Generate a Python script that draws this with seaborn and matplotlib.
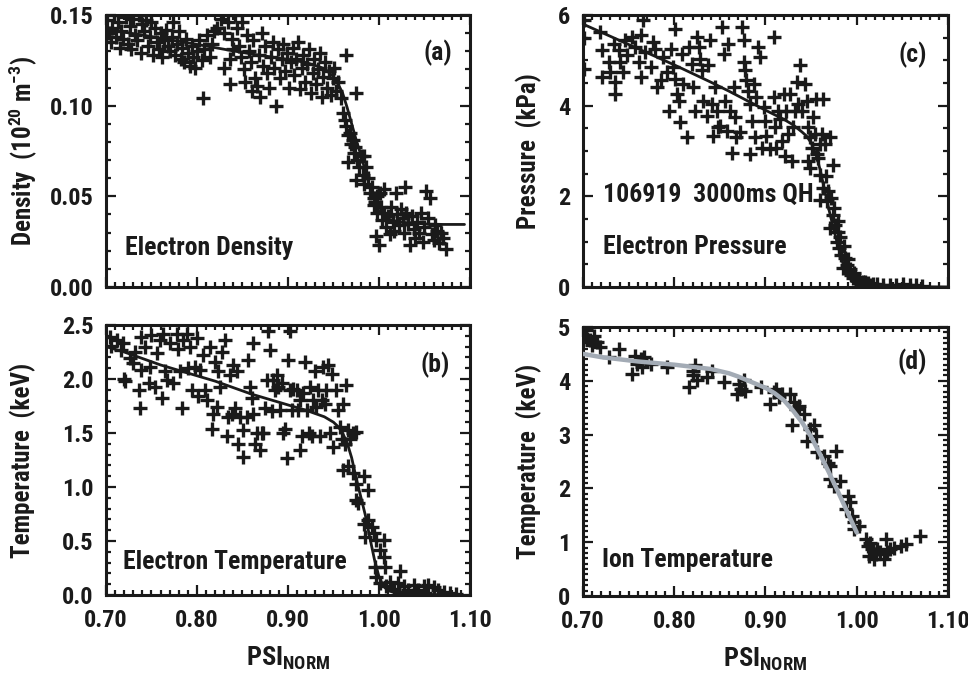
import numpy as np
import pandas as pd
import matplotlib
matplotlib.use("Agg")
import matplotlib.pyplot as plt
from matplotlib import font_manager
from matplotlib.ticker import MultipleLocator
import seaborn as sns

# ---------------- data ----------------
dens_pts = [
    (0.701,0.147),(0.703,0.140),(0.705,0.135),(0.707,0.143),(0.709,0.150),(0.711,0.138),(0.713,0.146),(0.715,0.132),(0.717,0.141),(0.719,0.137),
    (0.722,0.149),(0.724,0.134),(0.726,0.144),(0.728,0.131),(0.730,0.148),(0.732,0.139),(0.734,0.136),(0.736,0.150),(0.738,0.129),(0.740,0.145),
    (0.742,0.141),(0.744,0.147),(0.746,0.133),(0.748,0.138),(0.750,0.146),(0.752,0.128),(0.754,0.143),(0.756,0.135),(0.758,0.131),(0.760,0.140),
    (0.762,0.127),(0.764,0.136),(0.766,0.142),(0.768,0.133),(0.770,0.130),(0.772,0.138),(0.774,0.146),(0.776,0.128),(0.778,0.134),(0.780,0.141),
    (0.782,0.126),(0.784,0.132),(0.786,0.124),(0.788,0.137),(0.790,0.129),(0.792,0.122),(0.794,0.133),(0.796,0.127),(0.798,0.121),(0.800,0.130),
    (0.807,0.104),(0.802,0.136),(0.805,0.125),(0.808,0.131),(0.811,0.139),(0.814,0.127),(0.817,0.134),(0.819,0.141),
    (0.822,0.143),(0.826,0.148),(0.830,0.140),(0.834,0.146),(0.838,0.137),(0.836,0.126),(0.830,0.121),(0.840,0.131),(0.842,0.150),(0.836,0.112),
    (0.844,0.143),(0.846,0.133),(0.848,0.127),(0.850,0.146),(0.852,0.120),(0.853,0.113),(0.855,0.139),(0.857,0.130),(0.859,0.124),(0.860,0.108),
    (0.862,0.136),(0.864,0.115),(0.866,0.111),(0.868,0.128),(0.869,0.105),(0.871,0.140),(0.873,0.122),(0.875,0.133),(0.877,0.118),(0.879,0.110),
    (0.881,0.127),(0.883,0.135),(0.885,0.121),(0.887,0.100),(0.889,0.131),(0.891,0.115),(0.893,0.126),(0.895,0.134),(0.897,0.119),(0.899,0.129),
    (0.901,0.110),(0.903,0.124),(0.905,0.132),(0.907,0.117),(0.909,0.126),(0.911,0.135),(0.913,0.109),(0.915,0.121),(0.917,0.128),(0.919,0.113),
    (0.921,0.123),(0.923,0.131),(0.925,0.107),(0.927,0.118),(0.929,0.126),(0.931,0.112),(0.933,0.120),(0.935,0.129),(0.937,0.105),(0.939,0.116),
    (0.941,0.124),(0.943,0.110),(0.945,0.119),(0.947,0.106),(0.949,0.115),(0.951,0.121),(0.953,0.108),(0.955,0.113),(0.958,0.104),(0.964,0.128),(0.975,0.107),
    (0.961,0.096),(0.963,0.092),(0.964,0.089),(0.966,0.084),(0.968,0.085),(0.969,0.079),(0.971,0.081),(0.973,0.074),(0.974,0.077),(0.966,0.069),
    (0.976,0.070),(0.978,0.066),(0.980,0.072),(0.983,0.072),(0.975,0.059),(0.982,0.062),(0.986,0.066),(0.984,0.057),(0.988,0.060),(0.990,0.052),
    (0.992,0.055),(0.994,0.049),(0.994,0.045),(0.996,0.047),(0.998,0.050),(0.998,0.041),(1.001,0.052),(1.002,0.044),
    (0.997,0.028),(1.000,0.023),(1.003,0.037),(1.005,0.054),(1.006,0.041),(1.008,0.033),(1.010,0.039),(1.012,0.029),(1.013,0.044),(1.015,0.036),
    (1.017,0.031),(1.019,0.052),(1.020,0.040),(1.022,0.034),(1.024,0.043),(1.026,0.038),(1.028,0.030),(1.029,0.055),(1.030,0.041),(1.032,0.035),
    (1.034,0.023),(1.036,0.039),(1.038,0.032),(1.040,0.027),(1.042,0.036),(1.044,0.030),(1.046,0.041),(1.048,0.025),(1.050,0.033),(1.052,0.053),
    (1.054,0.038),(1.056,0.049),(1.058,0.029),(1.060,0.026),(1.062,0.034),(1.064,0.031),(1.066,0.024),(1.068,0.030),(1.070,0.027),(1.074,0.021),
]
dens_fit_x = [0.70,0.72,0.74,0.76,0.78,0.80,0.82,0.84,0.86,0.88,0.90,0.92,0.94,0.95,0.955,0.96,0.965,0.97,0.975,0.98,0.985,0.99,0.995,1.00,1.005,1.01,1.02,1.03,1.05,1.07,1.094]
dens_fit_y = [0.142,0.1405,0.139,0.1372,0.1355,0.1338,0.132,0.1302,0.1285,0.127,0.1255,0.1238,0.1205,0.116,0.112,0.107,0.099,0.090,0.081,0.073,0.064,0.055,0.048,0.042,0.039,0.0375,0.0362,0.0355,0.0348,0.0345,0.0345]

te_pts = [
    (0.704,2.39),(0.706,2.31),(0.712,2.36),(0.719,2.33),(0.717,2.27),(0.721,1.98),(0.720,2.00),(0.726,2.19),(0.730,2.15),(0.732,2.25),
    (0.737,1.73),(0.736,1.90),(0.739,2.39),(0.739,2.08),(0.743,2.30),(0.747,1.96),(0.748,2.11),(0.750,2.41),(0.754,1.93),(0.756,2.24),
    (0.759,2.36),(0.761,1.82),(0.763,2.42),(0.765,2.07),(0.767,1.99),(0.770,2.33),(0.774,1.96),(0.778,2.42),(0.779,2.28),(0.781,2.07),
    (0.783,1.73),(0.785,2.36),(0.789,2.42),(0.790,2.10),(0.792,2.30),(0.794,1.90),(0.798,2.11),(0.800,2.38),(0.801,1.84),(0.803,2.08),
    (0.807,2.22),(0.809,1.90),(0.811,1.81),(0.814,2.30),(0.816,1.54),(0.818,1.68),(0.820,2.16),(0.822,1.74),(0.823,2.07),(0.825,1.93),
    (0.827,2.25),(0.831,2.36),(0.833,1.47),(0.834,1.65),(0.836,2.04),(0.838,1.68),(0.840,2.13),(0.842,1.73),(0.844,2.07),(0.845,1.40),
    (0.847,1.65),(0.851,1.28),(0.851,1.53),(0.855,1.65),(0.856,2.18),(0.858,1.93),(0.860,1.82),(0.862,1.68),(0.862,2.33),(0.864,1.40),
    (0.866,1.50),(0.869,1.34),(0.871,1.50),(0.873,1.50),(0.875,1.73),(0.877,1.99),(0.878,2.44),(0.880,2.27),(0.882,1.70),(0.884,1.99),
    (0.886,1.90),(0.888,2.04),(0.889,1.93),(0.891,1.71),(0.893,1.96),(0.895,1.50),(0.897,1.54),(0.899,1.27),(0.900,2.18),(0.902,2.44),
    (0.902,1.90),(0.904,1.71),(0.906,1.91),(0.910,1.90),(0.911,1.71),(0.913,1.34),(0.913,1.81),(0.915,1.47),(0.917,1.87),(0.919,2.16),
    (0.921,1.71),(0.923,1.50),(0.924,1.93),(0.926,1.47),(0.928,1.81),(0.930,2.07),(0.931,1.74),(0.933,1.90),(0.935,1.47),(0.937,1.81),
    (0.939,2.11),(0.941,1.77),(0.942,1.90),(0.944,2.13),(0.946,1.50),(0.948,2.05),(0.950,1.37),(0.953,1.90),(0.955,1.71),(0.957,1.56),
    (0.959,1.44),(0.961,1.77),(0.963,1.40),(0.964,1.94),(0.966,1.53),(0.968,1.44),(0.972,1.50),(0.975,1.51),
    (0.961,1.16),(0.966,1.19),(0.972,1.13),(0.975,1.03),(0.983,1.10),(0.988,0.97),(0.975,0.88),(0.977,0.85),(0.983,0.66),(0.988,0.69),
    (0.992,0.63),(0.985,0.54),(0.994,0.57),(0.997,0.51),(1.005,0.51),(1.001,0.42),(1.005,0.35),(0.996,0.26),(1.007,0.26),(0.997,0.17),
    (1.023,0.22),(1.001,0.11),(1.008,0.08),(1.012,0.12),(1.016,0.06),(1.021,0.11),(1.027,0.08),(1.032,0.05),(1.038,0.09),(1.043,0.05),
    (1.049,0.08),(1.054,0.09),(1.060,0.07),(1.065,0.05),(1.071,0.03),(1.078,0.015),(1.027,0.03),(1.040,0.02),(1.051,0.02),(1.085,0.01),
]
te_fit_x = [0.70,0.72,0.74,0.76,0.78,0.80,0.82,0.84,0.86,0.88,0.90,0.92,0.94,0.95,0.955,0.96,0.965,0.97,0.975,0.98,0.985,0.99,0.995,1.00,1.005,1.01,1.02,1.04,1.06,1.09]
te_fit_y = [2.30,2.25,2.19,2.13,2.08,2.03,1.98,1.92,1.86,1.81,1.76,1.71,1.65,1.60,1.56,1.50,1.41,1.27,1.08,0.91,0.74,0.53,0.33,0.17,0.08,0.04,0.015,0.006,0.004,0.003]

pe_pts = [
    (0.701,5.90),(0.701,5.50),(0.701,4.80),(0.719,5.63),(0.721,5.22),(0.721,4.63),(0.728,4.96),(0.730,4.74),(0.735,4.26),(0.735,4.52),
    (0.734,5.37),(0.739,5.22),(0.741,4.96),(0.744,4.74),(0.746,5.44),(0.748,5.11),(0.754,5.52),(0.757,5.30),(0.761,4.96),(0.763,4.63),
    (0.763,5.56),(0.766,5.89),(0.768,5.19),(0.774,4.85),(0.777,5.41),(0.779,5.26),(0.781,4.41),(0.785,4.56),(0.788,5.07),(0.792,4.74),
    (0.794,3.89),(0.796,5.26),(0.799,4.85),(0.801,5.70),(0.801,4.59),(0.803,4.26),(0.805,4.11),(0.806,3.63),(0.808,5.15),(0.810,4.48),
    (0.814,3.30),(0.816,5.30),(0.819,4.93),(0.821,4.41),(0.823,3.89),(0.825,5.52),(0.827,5.30),(0.828,5.04),(0.830,4.78),(0.832,4.11),
    (0.836,3.78),(0.837,4.89),(0.839,5.44),(0.841,4.04),(0.843,3.33),(0.845,4.41),(0.847,3.89),(0.848,3.52),(0.850,3.56),(0.852,5.74),
    (0.854,5.15),(0.856,4.11),(0.858,3.44),(0.859,5.37),(0.861,3.89),(0.863,2.96),(0.865,4.41),(0.867,3.74),(0.868,3.30),(0.872,3.41),
    (0.874,5.74),(0.876,5.44),(0.876,4.96),(0.878,4.78),(0.879,4.56),(0.881,4.33),(0.883,2.93),(0.883,4.04),(0.885,3.67),(0.887,4.48),
    (0.889,3.30),(0.890,4.19),(0.892,5.30),(0.894,5.07),(0.896,3.07),(0.898,3.96),(0.899,3.67),(0.901,3.33),(0.905,3.04),(0.909,5.52),
    (0.909,4.19),(0.910,3.52),(0.912,3.07),(0.914,3.89),(0.916,3.70),(0.918,3.22),(0.920,4.26),(0.921,2.89),(0.923,3.89),(0.925,3.37),
    (0.927,4.26),(0.929,2.78),(0.930,3.52),(0.932,3.89),(0.934,4.52),(0.936,4.04),(0.938,4.89),(0.940,3.89),(0.943,4.48),(0.945,4.11),
    (0.947,3.52),(0.949,3.30),(0.951,3.07),(0.952,3.74),(0.954,3.37),(0.955,4.15),(0.956,2.93),(0.947,2.78),(0.949,2.63),(0.963,4.15),
    (0.960,3.15),(0.962,3.37),(0.965,3.15),(0.971,3.30),(0.974,2.70),(0.960,2.48),(0.963,2.19),(0.969,2.11),(0.967,1.89),(0.972,1.96),
    (0.960,1.93),(0.974,1.59),(0.971,1.30),(0.976,1.37),(0.980,1.22),(0.978,1.00),(0.981,0.85),(0.983,0.70),(0.987,0.63),(0.989,0.48),
    (0.985,0.41),(0.992,0.33),(0.994,0.26),(0.996,0.19),(1.000,0.15),(1.002,0.11),(1.005,0.07),(1.009,0.11),(1.014,0.05),(1.022,0.07),
    (1.029,0.04),(1.036,0.05),(1.043,0.04),(1.051,0.07),(1.058,0.04),(1.065,0.05),(1.071,0.03),
    (0.958,2.85),(0.966,2.45),(0.975,1.75),(0.979,1.45),(0.982,1.10),(0.986,0.90),(0.990,0.62),(0.993,0.40),(0.997,0.30),(0.998,0.22),
    (1.003,0.18),(1.007,0.12),(1.012,0.08),(1.018,0.06),
]
pe_fit_x = [0.70,0.72,0.74,0.76,0.78,0.80,0.82,0.84,0.86,0.88,0.90,0.92,0.93,0.94,0.945,0.95,0.955,0.96,0.965,0.97,0.975,0.98,0.985,0.99,0.995,1.00,1.01,1.03,1.06,1.10]
pe_fit_y = [5.80,5.62,5.44,5.26,5.08,4.90,4.71,4.52,4.32,4.11,3.90,3.70,3.58,3.42,3.33,3.18,2.95,2.58,2.12,1.67,1.25,0.87,0.52,0.27,0.12,0.06,0.03,0.015,0.008,0.0]

ti_pts = [
    (0.703,4.94),(0.704,4.78),(0.708,4.75),(0.712,4.84),(0.710,4.66),(0.715,4.72),(0.719,4.63),(0.728,4.44),(0.739,4.60),(0.754,4.13),
    (0.757,4.47),(0.759,4.32),(0.763,4.41),(0.767,4.44),(0.765,4.25),(0.774,4.32),(0.792,4.25),(0.816,3.88),(0.820,4.19),(0.823,4.29),
    (0.825,4.01),(0.821,4.10),(0.836,4.07),(0.841,4.19),(0.854,3.98),(0.869,3.76),(0.871,3.94),(0.873,3.85),(0.876,4.01),(0.878,3.82),
    (0.895,3.88),(0.905,3.57),(0.909,3.79),(0.911,3.85),(0.915,3.70),(0.918,3.76),(0.927,3.76),(0.929,3.17),(0.931,3.60),(0.933,3.48),
    (0.937,3.54),(0.942,3.39),(0.946,2.89),(0.949,3.11),(0.953,3.17),(0.955,2.98),(0.957,2.67),(0.964,2.61),(0.969,2.48),(0.971,2.42),
    (0.977,2.70),(0.971,2.17),(0.975,2.05),(0.982,2.14),(0.990,1.86),(0.988,1.61),(0.993,1.74),(0.995,1.49),(0.997,1.37),(1.002,1.30),
    (0.997,1.24),(1.010,1.06),(1.012,0.93),(1.015,0.99),(1.017,0.87),(1.013,0.75),(1.019,0.68),(1.022,0.87),(1.026,0.81),(1.030,0.68),
    (1.032,1.06),(1.033,0.81),(1.037,0.87),(1.048,0.93),(1.054,0.96),(1.069,1.12),(1.041,0.90),(1.021,0.78),
]
ti_fit_x = [0.70,0.72,0.74,0.76,0.78,0.80,0.82,0.84,0.86,0.87,0.88,0.89,0.90,0.91,0.92,0.93,0.94,0.95,0.96,0.97,0.98,0.99,1.00]
ti_fit_y = [4.50,4.44,4.40,4.36,4.33,4.30,4.26,4.22,4.14,4.08,4.01,3.94,3.87,3.77,3.64,3.45,3.23,2.96,2.63,2.28,1.92,1.55,1.18]

x_ticks = [0.70, 0.80, 0.90, 1.00, 1.10]
x_ticklabels = ["0.70", "0.80", "0.90", "1.00", "1.10"]

# ---------------- style ----------------
sns.set_theme(style="ticks")
names = {f.name for f in font_manager.fontManager.ttflist}
narrow = [n for n in ["Liberation Sans Narrow", "Roboto Condensed", "Open Sans Condensed",
                      "Noto Sans Condensed", "Arial Narrow", "Nimbus Sans Narrow"] if n in names]
if narrow:
    FONT = narrow[0]
    K = 1.0
else:
    FONT = "Liberation Sans"
    K = 0.84
plt.rcParams["font.family"] = [FONT, "DejaVu Sans"]
plt.rcParams["font.weight"] = "bold"
plt.rcParams["axes.labelweight"] = "bold"
plt.rcParams["mathtext.fontset"] = "custom"
plt.rcParams["mathtext.rm"] = f"{FONT}:bold"
plt.rcParams["mathtext.bf"] = f"{FONT}:bold"
plt.rcParams["mathtext.it"] = f"{FONT}:bold"
plt.rcParams["mathtext.sf"] = f"{FONT}:bold"
plt.rcParams["mathtext.default"] = "rm"

FS_TICK = 17.5 * K
FS_TEXT = 18.5 * K
FS_LAB = 18 * K
INK = "#1a1a1a"

fig = plt.figure(figsize=(9.68, 6.74), dpi=100)
ax_a = fig.add_axes([0.1095, 0.5742, 0.376, 0.4035])
ax_c = fig.add_axes([0.6023, 0.5742, 0.377, 0.4035])
ax_b = fig.add_axes([0.1095, 0.1172, 0.376, 0.4006])
ax_d = fig.add_axes([0.6023, 0.1157, 0.377, 0.3991])


def style(ax, ylim, ymaj, ymin, yfmt, show_x, ylab, ylab_x):
    ax.set_xlim(0.70, 1.10)
    ax.set_ylim(*ylim)
    ax.set_xticks(x_ticks)
    ax.xaxis.set_minor_locator(MultipleLocator(0.01))
    ax.set_yticks(ymaj)
    ax.set_yticklabels([yfmt.format(v) for v in ymaj])
    ax.yaxis.set_minor_locator(MultipleLocator(ymin))
    if show_x:
        ax.set_xticklabels(x_ticklabels)
        ax.set_xlabel(r"PSI$_{\mathrm{NORM}}$", fontsize=FS_LAB + 1, labelpad=9,
                      color=INK, fontweight="bold")
    else:
        ax.set_xticklabels([])
        ax.set_xlabel("")
    ax.set_ylabel(ylab, fontsize=FS_LAB, color=INK, fontweight="bold")
    ax.yaxis.set_label_coords(ylab_x, 0.5)
    ax.tick_params(which="both", direction="in", top=True, right=True, colors=INK,
                   labelsize=FS_TICK, width=1.6)
    ax.tick_params(axis="y", which="major", length=7, pad=9)
    ax.tick_params(axis="x", which="major", length=7, pad=10)
    ax.tick_params(which="minor", length=3.5)
    for s in ax.spines.values():
        s.set_linewidth(2.2)
        s.set_color(INK)
    for lab in ax.get_xticklabels() + ax.get_yticklabels():
        lab.set_fontweight("bold")


def scatter(ax, pts):
    df = pd.DataFrame(pts, columns=["psi", "val"])
    sns.scatterplot(data=df, x="psi", y="val", ax=ax, marker="+", s=95,
                    linewidth=2.4, color=INK, legend=False, zorder=3)


def fit(ax, xs, ys, color, lw):
    sns.lineplot(x=xs, y=ys, ax=ax, color=color, linewidth=lw, zorder=4,
                 estimator=None, sort=True)


def note(ax, x, y, s, ha="left"):
    ax.text(x, y, s, transform=ax.transAxes, ha=ha, va="center",
            fontsize=FS_TEXT, fontweight="bold", color=INK)


# (a) density
scatter(ax_a, dens_pts)
fit(ax_a, dens_fit_x, dens_fit_y, INK, 2.0)
style(ax_a, (0, 0.15), [0.0, 0.05, 0.10, 0.15], 0.01, "{:.2f}", False,
      r"Density  (10$^{20}$ m$^{-3}$)", -0.183)
note(ax_a, 0.95, 0.86, "(a)", ha="right")
note(ax_a, 0.052, 0.143, "Electron Density")

# (c) pressure
scatter(ax_c, pe_pts)
fit(ax_c, pe_fit_x, pe_fit_y, INK, 2.0)
style(ax_c, (0, 6), [0, 2, 4, 6], 0.5, "{:d}", False, "Pressure  (kPa)", -0.112)
note(ax_c, 0.942, 0.853, "(c)", ha="right")
note(ax_c, 0.055, 0.338, "106919  3000ms QH")
note(ax_c, 0.055, 0.147, "Electron Pressure")

# (b) electron temperature
scatter(ax_b, te_pts)
fit(ax_b, te_fit_x, te_fit_y, INK, 2.0)
style(ax_b, (0, 2.5), [0.0, 0.5, 1.0, 1.5, 2.0, 2.5], 0.1, "{:.1f}", True,
      "Temperature  (keV)", -0.192)
note(ax_b, 0.945, 0.852, "(b)", ha="right")
note(ax_b, 0.047, 0.122, "Electron Temperature")

# (d) ion temperature
scatter(ax_d, ti_pts)
fit(ax_d, ti_fit_x, ti_fit_y, "#a3abb5", 3.2)
style(ax_d, (0, 5), [0, 1, 2, 3, 4, 5], 0.1, "{:d}", True, "Temperature  (keV)", -0.112)
note(ax_d, 0.942, 0.87, "(d)", ha="right")
note(ax_d, 0.052, 0.134, "Ion Temperature")

fig.savefig("out.png", dpi=100, facecolor="white")
